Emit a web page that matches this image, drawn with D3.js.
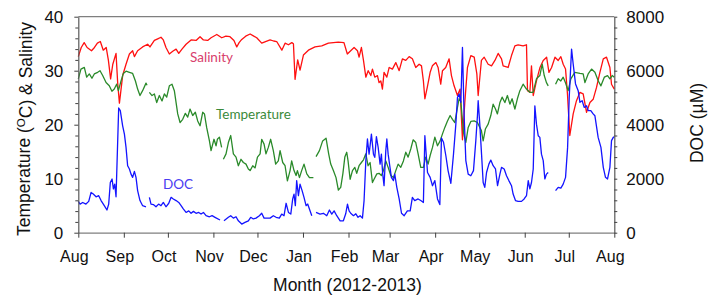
<!DOCTYPE html>
<html>
<head>
<meta charset="utf-8">
<script src="https://cdn.jsdelivr.net/npm/d3@7/dist/d3.min.js"></script>
<style>
  html, body { margin: 0; padding: 0; background: #fff; }
  svg { display: block; }
</style>
</head>
<body>
<svg id="chart" width="719" height="297"></svg>
<script>
// ---- Data (day offsets from 1 Aug 2012, value); null = gap in record ----
const salinity = [
  [0,32.6],[2,34.3],[4,35.2],[6,34.3],[9,33.7],[11,34.3],[13,35.1],[15,35.4],[17,33.8],[19,34.3],
  [20.5,31.9],[22,28.5],[23.5,31.2],[25.7,33.2],[26.8,27.8],[28,24.0],[29,26.3],[30.2,29.1],[32.5,31.2],
  [34.8,33.1],[37,33.7],[38.2,32.6],[40.4,33.7],[43.8,34.4],[47.2,34.9],[48.8,34.4],[51.8,35.6],[54.1,35.9],
  [56.3,36.2],[57.9,35.7],[59.7,34.3],[62,33.1],[64.3,33.6],[66.6,34.0],[68.4,33.2],[70.6,34.0],[73.4,34.9],
  [76.8,35.7],[80.2,35.6],[82.9,36.3],[85.2,35.7],[88.1,35.6],[90.4,36.1],[94.3,36.7],[97.7,36.1],[100.5,36.4],
  [103.3,36.3],[106,35.6],[107.9,34.4],[109.5,35.2],[111.3,35.8],[114,36.4],[117,36.8],[119.5,36.4],[121.5,36.1],
  [124.9,35.1],[127.5,35.4],[130.6,35.7],[133,35.5],[135.1,35.4],[138.6,33.8],[140.8,35.1],[143.1,34.8],
  [145.4,35.2],[146.5,35.0],[147.6,28.4],[149.4,32.0],[151,30.1],[153.3,32.9],[156.7,33.8],[161.2,34.4],
  [165.8,34.6],[170.3,35.1],[173.7,35.2],[177,35.3],[180.9,35.2],[183.2,33.1],[185.5,33.7],[187.8,34.3],
  [190.1,33.7],[191.2,32.5],[192.8,34.3],[194.2,31.9],[195.8,28.8],[197.4,30.0],[199.2,29.1],[200.3,30.3],
  [201.9,28.8],[203.7,29.1],[204.8,27.8],[206,28.1],[207.1,26.6],[208.2,29.7],[210.1,28.8],[211.7,30.6],
  [213.9,30.3],[216.2,31.5],[218.5,30.0],[220.7,32.2],[223,31.9],[225.3,32.6],[227.5,32.2],[229.8,30.6],
  [232.1,31.2],[233.7,30.9],[235,28.1],[236,24.8],[237.7,27.0],[239.6,29.7],[241.1,30.9],[243.5,31.5],
  [245,30.6],[246.8,27.5],[248,30.0],[250.2,30.6],[252.5,32.2],[254.1,29.1],[255.9,27.2],[258.2,25.4],
  [260,26.6],[261.6,17.2],[263.2,24.1],[265,30.6],[267.3,32.8],[269.6,32.5],[271.4,29.4],[272.3,25.4],
  [274.5,31.9],[276.4,32.5],[279.1,31.2],[281.4,30.9],[283.7,31.9],[285.9,33.2],[288.2,32.2],[289.3,30.9],
  [292.7,30.6],[295,32.8],[297.3,34.6],[299.5,34.8],[302.9,34.6],[305.2,34.8],[305.9,26.3],[307.5,26.0],
  [308.6,30.9],[309.8,25.4],[312,28.1],[314.4,30.6],[316.6,31.9],[318.9,32.5],[320.5,29.7],[322.3,30.6],
  [324.6,32.5],[326.8,31.9],[328.6,32.6],[330.2,31.2],[331.8,30.3],[333.1,25.7],[334.7,18.0],[337,22.0],
  [339.2,24.4],[341.6,26.0],[343.8,25.7],[346.1,22.3],[348.4,24.1],[350.6,24.7],[352.9,26.9],[355.2,29.7],
  [357.5,32.2],[359.7,32.5],[362,30.6],[363.1,27.5],[365,26.6]
];

const temperature = [
  [0,28.5],[1.8,30.3],[4.1,30.6],[5.7,28.8],[7.5,29.4],[9.3,28.6],[10.9,29.4],[13.2,29.7],[14.8,30.0],
  [16.6,29.1],[18.9,27.8],[21.1,27.2],[22.9,26.2],[24.5,26.6],[26.1,27.5],[27.3,26.3],[29.1,28.1],[30.7,29.5],
  [32.5,29.9],[34.8,29.7],[37,29.5],[38.9,28.1],[40.4,26.6],[42,25.4],[43.8,26.3],[46.1,27.7],[46.8,27.3],
  [47.5,null],[48.4,26.0],[50.2,25.4],[51.8,25.7],[53.4,24.1],[55.2,25.4],[57,24.4],[58.6,25.7],[60.2,25.1],
  [62,27.2],[63.8,27.5],[65.4,26.3],[67.7,22.0],[69.3,20.4],[71.1,21.0],[72.9,22.1],[74.5,21.4],[76.1,22.9],
  [77.9,21.7],[79.7,22.3],[81.3,20.7],[82.9,19.8],[84.7,22.3],[85.9,22.0],[87.4,19.5],[89.3,17.0],[90.4,15.2],
  [92.4,17.3],[93.8,16.1],[94.7,17.3],[96.1,17.7],[97.6,15.8],[98.2,null],[98.8,13.6],[100.6,14.6],
  [102.2,16.7],[103.8,18.0],[105.6,14.6],[107.4,14.0],[109,12.4],[110.8,13.6],[112.4,13.0],[114.2,12.7],
  [115.8,11.8],[117,11.5],[118.8,12.4],[120.4,12.0],[122,14.0],[123.8,14.6],[124.9,17.3],[126.5,16.4],
  [127.8,14.6],[129.4,15.8],[131,17.3],[132.8,15.2],[134.4,12.7],[136.2,13.3],[137.4,15.2],[139.2,13.0],
  [140.8,12.4],[142.4,9.6],[144.2,11.5],[145.3,13.3],[146.9,11.5],[148.3,10.6],[149.2,11.5],[150.6,10.2],
  [152.1,11.5],[153.7,12.7],[155.6,10.9],[157.4,10.2],[160.1,10.2],[161,null],[161.9,14.1],[164.2,15.2],
  [166.4,17.0],[168.7,17.5],[170.5,14.6],[171.9,12.7],[173.7,11.5],[175.5,10.2],[177.1,7.9],[178.7,8.4],
  [180.2,11.0],[181.5,14.0],[182.8,14.9],[183.7,13.3],[185.1,9.9],[186.7,11.5],[188.3,12.1],[189.6,11.0],
  [191.2,12.4],[192.8,13.0],[194.2,13.5],[195.8,14.6],[197.3,12.4],[198.7,13.0],[200.3,9.3],[201.4,9.9],
  [203.3,10.9],[204.8,11.0],[206.4,10.6],[207.8,11.5],[209.4,13.3],[211,12.1],[212.8,10.6],[214.6,10.2],
  [216.2,11.5],[217.8,12.7],[219.6,12.1],[221.4,13.3],[223,14.9],[224.6,14.0],[226.4,15.5],[228,17.2],
  [229.8,16.7],[231.4,14.6],[233.2,12.1],[235,12.1],[236.6,14.0],[238.2,12.7],[239.6,14.3],[241.2,15.8],
  [242.8,17.7],[244.6,16.1],[246.4,17.0],[248,18.3],[249.6,19.5],[251.4,20.7],[253.2,21.7],[254.8,21.0],
  [256.4,20.4],[258.2,23.2],[259.3,24.8],[260.5,24.3],[262.3,18.6],[263.9,16.7],[265.5,19.5],[267.3,20.6],
  [269.6,20.7],[271.8,20.4],[274.5,18.9],[275.7,17.0],[277.2,19.2],[279.1,20.1],[280.9,21.7],[282.5,23.8],
  [284.1,22.9],[285.4,22.0],[287.1,24.1],[288.6,25.1],[290.5,24.1],[292.2,25.4],[293.9,23.8],[295.4,24.8],
  [297.3,22.9],[299,24.8],[300.7,26.3],[302.9,27.5],[305.2,26.6],[307.5,26.0],[309.7,26.0],[312,28.5],
  [314.3,29.1],[315.9,31.2],[317.3,29.1],[318.8,27.8],[320,27.2],[322,null],[325,27.5],[326.8,28.5],
  [328.6,28.1],[330.2,28.8],[331.7,27.8],[333.6,26.3],[335.4,28.5],[338.1,29.7],[341.6,29.5],[343.8,29.4],
  [345,27.8],[347.2,29.4],[349.5,30.3],[351.8,29.7],[354.1,28.1],[355.9,27.2],[358.2,28.8],[360.4,29.1],
  [362,28.5],[363.6,29.1],[365,28.8]
];

const doc = [
  [0,1160],[1.2,1060],[3,1120],[5.2,1060],[7.1,1160],[8.7,1490],[10.2,1430],[12.1,1330],[13.9,1370],
  [15.5,1190],[17.7,1000],[19.5,840],[20.7,1060],[21.8,1860],[23,1990],[23.9,1620],[24.8,1800],[25.7,1330],
  [27.5,4620],[28.6,4520],[30.2,3960],[31.4,3650],[32.5,3160],[33.6,2480],[34.8,2360],[35.9,2170],[37,2050],
  [38.2,2270],[39.3,2050],[40.4,1560],[42,1190],[43.8,1000],[46.1,960],[47,null],[48.4,1310],[49.5,1060],
  [51.1,1040],[52.9,960],[54.7,1060],[56.3,1000],[57.9,1120],[59.7,960],[61.6,1090],[63.2,1310],[64.7,1250],
  [66.6,1190],[68.4,1120],[70,1000],[71.5,880],[73.4,750],[75.2,810],[76.8,720],[78.4,790],[80.2,720],
  [82,750],[83.6,690],[85.2,750],[87,630],[89.3,590],[91.1,630],[93.1,570],[96.5,470],[97.5,null],
  [99.2,440],[102.2,570],[103.8,630],[105.6,540],[107.4,590],[109,440],[111.3,320],[113.5,380],[115.8,440],
  [117.4,570],[119.2,510],[121,540],[123.3,630],[124.9,720],[126.5,540],[128.3,540],[130.6,540],[132.8,630],
  [134.7,570],[136.9,540],[138.5,690],[140.1,630],[141.5,1090],[143.1,750],[144.7,690],[146,1250],
  [146.9,1430],[147.8,1000],[148.7,1930],[149.9,1370],[151,1800],[152.4,1560],[153.7,1310],[155.1,1000],
  [156.2,1060],[157.8,810],[159,630],[160.5,null],[161.9,750],[164.6,690],[166.9,720],[169.2,630],[171,840],
  [172.6,690],[174.2,810],[176,630],[178.3,440],[180.5,440],[182.1,700],[183.3,1060],[184.4,810],[185.5,720],
  [187.4,630],[189,700],[190.5,570],[191.9,630],[193.5,540],[194.6,1190],[195.8,2670],[196.9,3470],
  [198,2910],[198.7,3220],[199.6,3650],[201,2910],[201.9,2790],[203,3560],[204.2,3160],[205.5,2540],
  [206.4,2910],[207.3,2170],[208.2,1740],[209.4,3040],[210.1,3470],[211,2910],[212.1,2480],[213.2,2050],
  [214.6,1930],[215.5,2170],[216.9,1680],[218.5,1250],[220.1,720],[221.9,630],[224.1,810],[226,810],
  [227.5,1310],[229.1,1190],[231.4,1250],[233.2,1190],[235,1120],[236,3590],[237.8,2230],[239.6,2050],
  [241.2,1740],[242.8,1930],[244.6,1250],[246.2,1040],[247.3,3510],[248.7,3350],[250.3,2850],[251.8,2300],
  [253.7,1830],[255.5,2910],[257.1,4020],[258.2,5010],[259.3,5140],[260.5,4830],[261.6,6860],[262.7,4400],
  [263.9,2670],[265.5,2170],[267.3,2110],[269.1,2300],[270.7,3410],[271.8,4330],[272.3,4890],[273.4,4020],
  [274.6,2910],[275.7,1860],[276.8,1680],[278,2230],[279.6,2540],[280.9,2690],[282.5,2480],[284.1,2360],
  [285.5,1740],[287.1,2170],[288.2,2420],[290,2360],[291.6,2110],[293.2,1930],[295,1740],[296.1,1430],
  [297.7,1190],[299.5,1160],[301.8,1160],[303.6,1250],[305.2,1370],[306.4,1930],[307.5,1620],[308.6,1860],
  [309.8,2360],[310.9,4700],[312,4020],[313.2,3590],[314.3,3530],[315.4,2910],[316.6,2670],[317.7,1990],
  [318.8,2170],[320,2230],[322,null],[325,1560],[326.8,1680],[328.6,1650],[330.2,1800],[331.8,2050],
  [333.2,3160],[334.3,5010],[335.9,6800],[337,6250],[338.6,5510],[340.4,5260],[341.6,4830],[343.1,4890],
  [344.5,4640],[346.1,4700],[347.2,4520],[349,4520],[350.6,4400],[351.8,4330],[354,3530],[355.9,3160],
  [357.5,2420],[359,2050],[360.4,1990],[362,2420],[363.1,3410],[364.3,3530],[365,3550]
];

const leftTicks = [0, 10, 20, 30, 40];
const leftMinorTicks = [2,4,6,8,12,14,16,18,22,24,26,28,32,34,36,38];
const rightTicks = [0, 2000, 4000, 6000, 8000];
const rightMinorTicks = [400,800,1200,1600,2400,2800,3200,3600,4400,4800,5200,5600,6400,6800,7200,7600];
const startDate = Date.UTC(2012, 7, 1);
const endDate = Date.UTC(2013, 7, 1);

// ---- Layout ----
const svg = d3.select("#chart");
const L = 78.3, R = 614.3, T = 16.7, B = 232.7;
const toDate = d => new Date(startDate + d * 864e5);

const x = d3.scaleUtc().domain([new Date(startDate), new Date(endDate)]).range([L, R]);
const yT = d3.scaleLinear().domain([0, 40]).range([B, T]);
const yD = d3.scaleLinear().domain([0, 8000]).range([B, T]);

const tickFont = "'Liberation Sans', Arial, sans-serif";

// top frame line
svg.append("line").attr("x1", L).attr("x2", R).attr("y1", T).attr("y2", T)
  .attr("stroke", "#7f7f7f").attr("stroke-width", 1.2);

// ---- Series ----
function drawSeries(data, yScale, color) {
  const line = d3.line()
    .defined(d => d[1] !== null)
    .x(d => x(toDate(d[0])))
    .y(d => yScale(d[1]));
  svg.append("path").datum(data)
    .attr("fill", "none").attr("stroke", color)
    .attr("stroke-width", 1.3).attr("stroke-linejoin", "round")
    .attr("d", line);
}
drawSeries(salinity, yT, "#ff1010");
drawSeries(temperature, yT, "#2a8a2a");
drawSeries(doc, yD, "#1414ff");

// ---- Axes ----
function styleAxis(g) {
  g.selectAll(".domain").attr("stroke", "#595959").attr("stroke-width", 1.2);
  g.selectAll(".tick line").attr("stroke", "#404040");
  g.selectAll("text").attr("fill", "#111").style("font-family", tickFont).style("font-size", "17px");
}

const gL = svg.append("g").attr("transform", `translate(${L},0)`)
  .call(d3.axisLeft(yT).tickValues(leftTicks).tickSize(4).tickSizeOuter(0).tickPadding(11));
styleAxis(gL);
gL.selectAll("text").attr("dy", "0.36em");
svg.append("g").attr("transform", `translate(${L},0)`)
  .call(d3.axisLeft(yT).tickValues(leftMinorTicks).tickSize(3).tickFormat(""))
  .call(g => { g.select(".domain").remove(); g.selectAll(".tick line").attr("stroke", "#404040"); });

const gR = svg.append("g").attr("transform", `translate(${R},0)`)
  .call(d3.axisRight(yD).tickValues(rightTicks).tickFormat(d3.format("d")).tickSize(3).tickSizeOuter(0).tickPadding(9));
styleAxis(gR);
svg.append("g").attr("transform", `translate(${R},0)`)
  .call(d3.axisRight(yD).tickValues(rightMinorTicks).tickSize(3).tickFormat(""))
  .call(g => { g.select(".domain").remove(); g.selectAll(".tick line").attr("stroke", "#404040"); });

const gB = svg.append("g").attr("transform", `translate(0,${B})`)
  .call(d3.axisBottom(x).ticks(d3.utcMonth.every(1)).tickFormat(d3.utcFormat("%b")).tickSize(5).tickSizeOuter(0));
styleAxis(gB);
gB.select(".domain").attr("stroke", "#7f7f7f");
gB.selectAll("text").attr("y", 29.5).attr("dy", 0).attr("dx", -4.5).style("font-size", "16px");

// ---- Axis titles ----
const title = svg.append("text")
  .attr("transform", "translate(30,129) rotate(-90)")
  .attr("text-anchor", "middle")
  .style("font-family", tickFont).style("font-size", "17.5px").attr("fill", "#111");
title.append("tspan").text("Temperature (");
title.append("tspan").text("O").attr("dy", "-0.4em").style("font-size", "11.5px");
title.append("tspan").text("C) & Salinity").attr("dy", "0.4em");

svg.append("text")
  .attr("transform", "translate(703,123) rotate(-90)")
  .attr("text-anchor", "middle")
  .style("font-family", tickFont).style("font-size", "17.5px").attr("fill", "#111")
  .text("DOC (\u00B5M)");

svg.append("text")
  .attr("x", 347.5).attr("y", 291)
  .attr("text-anchor", "middle")
  .style("font-family", tickFont).style("font-size", "17.5px").attr("fill", "#111")
  .text("Month (2012-2013)");

// ---- Series labels ----
const labFont = "Lato, 'Open Sans', sans-serif";
svg.append("text").attr("x", 190).attr("y", 62).text("Salinity")
  .style("font-family", labFont).style("font-size", "13.5px").attr("fill", "#d8406c");
svg.append("text").attr("x", 216).attr("y", 119).text("Temperature")
  .style("font-family", labFont).style("font-size", "13.5px").attr("fill", "#3a8a3a");
svg.append("text").attr("x", 163).attr("y", 189).text("DOC")
  .style("font-family", labFont).style("font-size", "13.5px").attr("fill", "#4a3cf2");
</script>
</body>
</html>
